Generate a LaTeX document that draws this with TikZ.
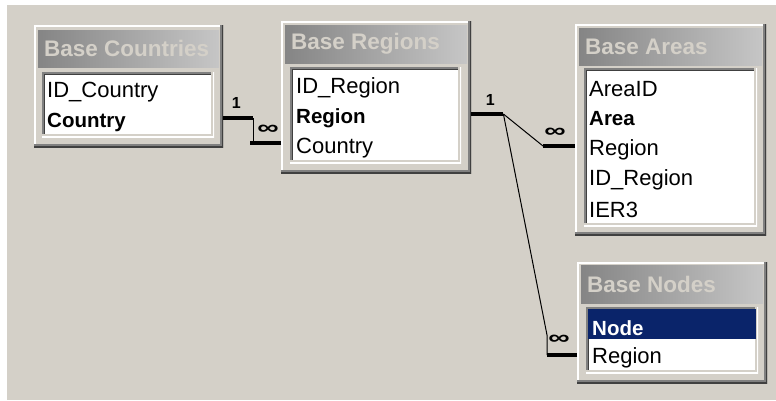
\documentclass[tikz,border=0pt]{standalone}
\usepackage{fontspec}
\setmainfont{Liberation Sans}
\usepackage{tikz}
\usetikzlibrary{positioning}

\definecolor{winface}{HTML}{D4D0C8}
\definecolor{windark}{HTML}{404040}
\definecolor{winshadow}{HTML}{808080}
\definecolor{titleleft}{HTML}{858585}
\definecolor{titleright}{HTML}{C6C6C6}
\definecolor{selnavy}{HTML}{0A246A}

\tikzstyle{tableframe} = [rectangle, anchor=north west, inner sep=0pt, fill=winface, path picture={
  \draw[white, line width=3pt] (path picture bounding box.south west) |- (path picture bounding box.north east);
  \draw[winshadow, line width=6pt] (path picture bounding box.south west) -| (path picture bounding box.north east);
  \draw[windark, line width=3pt] (path picture bounding box.south west) -| (path picture bounding box.north east);}]
\tikzstyle{titlebar} = [rectangle, anchor=north west, inner sep=0pt, left color=titleleft, right color=titleright]
\tikzstyle{fieldlist} = [rectangle, anchor=north west, inner sep=0pt, fill=white, path picture={
  \draw[windark, line width=6pt] (path picture bounding box.south west) |- (path picture bounding box.north east);
  \draw[winshadow, line width=3pt] (path picture bounding box.south west) |- (path picture bounding box.north east);
  \draw[winface, line width=6pt] (path picture bounding box.south west) -| (path picture bounding box.north east);
  \draw[white, line width=3pt] (path picture bounding box.south west) -| (path picture bounding box.north east);}]
\tikzstyle{selbar} = [rectangle, anchor=north west, inner sep=0pt, fill=selnavy]
\tikzstyle{tabletitle} = [anchor=west, inner sep=0pt, text=winface, font=\bfseries\fontsize{22.5}{26}\selectfont]
\tikzstyle{field} = [anchor=west, inner sep=0pt, font=\fontsize{22}{26}\selectfont]
\tikzstyle{keyfield} = [anchor=west, inner sep=0pt, font=\bfseries\fontsize{20.5}{26}\selectfont]
\tikzstyle{keyend} = [line width=4pt]
\tikzstyle{relline} = [line width=1pt]
\tikzstyle{onelabel} = [inner sep=0pt, font=\bfseries\fontsize{16}{18}\selectfont]
\tikzstyle{manylabel} = [inner sep=0pt, xscale=1.5, font=\bfseries\fontsize{20}{20}\selectfont]

\begin{document}
\begin{tikzpicture}[x=1pt, y=-1pt]

\useasboundingbox (0,0) rectangle (776,400);
\fill[white] (0,0) rectangle (776,400);
\fill[winface] (7,5) rectangle (776,400);

% Base Countries
\node[tableframe, minimum width=189pt, minimum height=122pt] (countries) at (34,25) {};
\node[titlebar, minimum width=181pt, minimum height=37pt, below right=5pt and 4pt of countries.north west] (countries-title) {};
\node[tabletitle] (countries-name) at ([xshift=6pt]countries-title.west) {Base Countries};
\node[fieldlist, minimum width=172pt, minimum height=65pt, below right=47pt and 8pt of countries.north west] (countries-list) {};
\node[field] (countries-id) at ([shift={(5,20)}]countries-list.north west) {ID\_Country};
\node[keyfield] (countries-country) at ([shift={(5,50)}]countries-list.north west) {Country};

% Base Regions
\node[tableframe, minimum width=190pt, minimum height=152pt] (regions) at (281,21) {};
\node[titlebar, minimum width=182pt, minimum height=38pt, below right=4pt and 4pt of regions.north west] (regions-title) {};
\node[tabletitle] (regions-name) at ([xshift=6pt]regions-title.west) {Base Regions};
\node[fieldlist, minimum width=171pt, minimum height=96pt, below right=46pt and 9pt of regions.north west] (regions-list) {};
\node[field] (regions-id) at ([shift={(6,21)}]regions-list.north west) {ID\_Region};
\node[keyfield] (regions-region) at ([shift={(6,51)}]regions-list.north west) {Region};
\node[field] (regions-country) at ([shift={(6,81)}]regions-list.north west) {Country};

% Base Areas
\node[tableframe, minimum width=191pt, minimum height=211pt] (areas) at (575,24) {};
\node[titlebar, minimum width=183pt, minimum height=37pt, below right=4pt and 4pt of areas.north west] (areas-title) {};
\node[tabletitle] (areas-name) at ([xshift=6pt]areas-title.west) {Base Areas};
\node[fieldlist, minimum width=173pt, minimum height=158pt, below right=44pt and 9pt of areas.north west] (areas-list) {};
\node[field] (areas-id) at ([shift={(5,21)}]areas-list.north west) {AreaID};
\node[keyfield] (areas-area) at ([shift={(5,51)}]areas-list.north west) {Area};
\node[field] (areas-region) at ([shift={(5,82)}]areas-list.north west) {Region};
\node[field] (areas-regionid) at ([shift={(5,112)}]areas-list.north west) {ID\_Region};
\node[field] (areas-ier) at ([shift={(5,142)}]areas-list.north west) {IER3};

% Base Nodes
\node[tableframe, minimum width=190pt, minimum height=121pt] (nodes) at (577,262) {};
\node[titlebar, minimum width=182pt, minimum height=38pt, below right=3pt and 4pt of nodes.north west] (nodes-title) {};
\node[tabletitle] (nodes-name) at ([xshift=6pt]nodes-title.west) {Base Nodes};
\node[fieldlist, minimum width=172pt, minimum height=66pt, below right=45pt and 9pt of nodes.north west] (nodes-list) {};
\node[selbar, minimum width=168pt, minimum height=30pt, below right=2pt and 2pt of nodes-list.north west] (nodes-sel) {};
\node[keyfield, text=white] (nodes-node) at ([shift={(6,21)}]nodes-list.north west) {Node};
\node[field] (nodes-region) at ([shift={(6,51)}]nodes-list.north west) {Region};

% Countries 1 - oo Regions
\coordinate (c1-one) at ([yshift=4pt]countries.east |- countries-country);
\coordinate (c1-many) at ([yshift=5pt]regions.west |- regions-country);
\draw[keyend] (c1-one) -- ++(30,0) coordinate (c1-a);
\draw[keyend] (c1-many) -- ++(-31,0) coordinate (c1-b);
\draw[relline] (c1-a) -- (c1-a |- c1-b);
\node[onelabel] (c1-label-one) at ([shift={(13,-15)}]c1-one) {1};
\node[manylabel] (c1-label-many) at ([shift={(-13,-13)}]c1-many) {∞};

% Regions 1 - oo Areas
\coordinate (c2-one) at ([yshift=4pt]regions.east |- regions-region);
\coordinate (c2-many) at ([yshift=4pt]areas.west |- areas-region);
\draw[keyend] (c2-one) -- ++(32,0) coordinate (c2-a);
\draw[keyend] (c2-many) -- ++(-32,0) coordinate (c2-b);
\draw[relline] (c2-a) -- (c2-b);
\node[onelabel] (c2-label-one) at ([shift={(19,-14)}]c2-one) {1};
\node[manylabel] (c2-label-many) at ([shift={(-20,-13)}]c2-many) {∞};

% Regions 1 - oo Nodes
\coordinate (c3-many) at ([yshift=3pt]nodes.west |- nodes-region);
\draw[keyend] (c3-many) -- ++(-30,0) coordinate (c3-b);
\draw[relline] (c2-a) -- ([yshift=20pt]c3-b) -- (c3-b);
\node[manylabel] (c3-label-many) at ([shift={(-18,-15)}]c3-many) {∞};

\end{tikzpicture}
\end{document}
